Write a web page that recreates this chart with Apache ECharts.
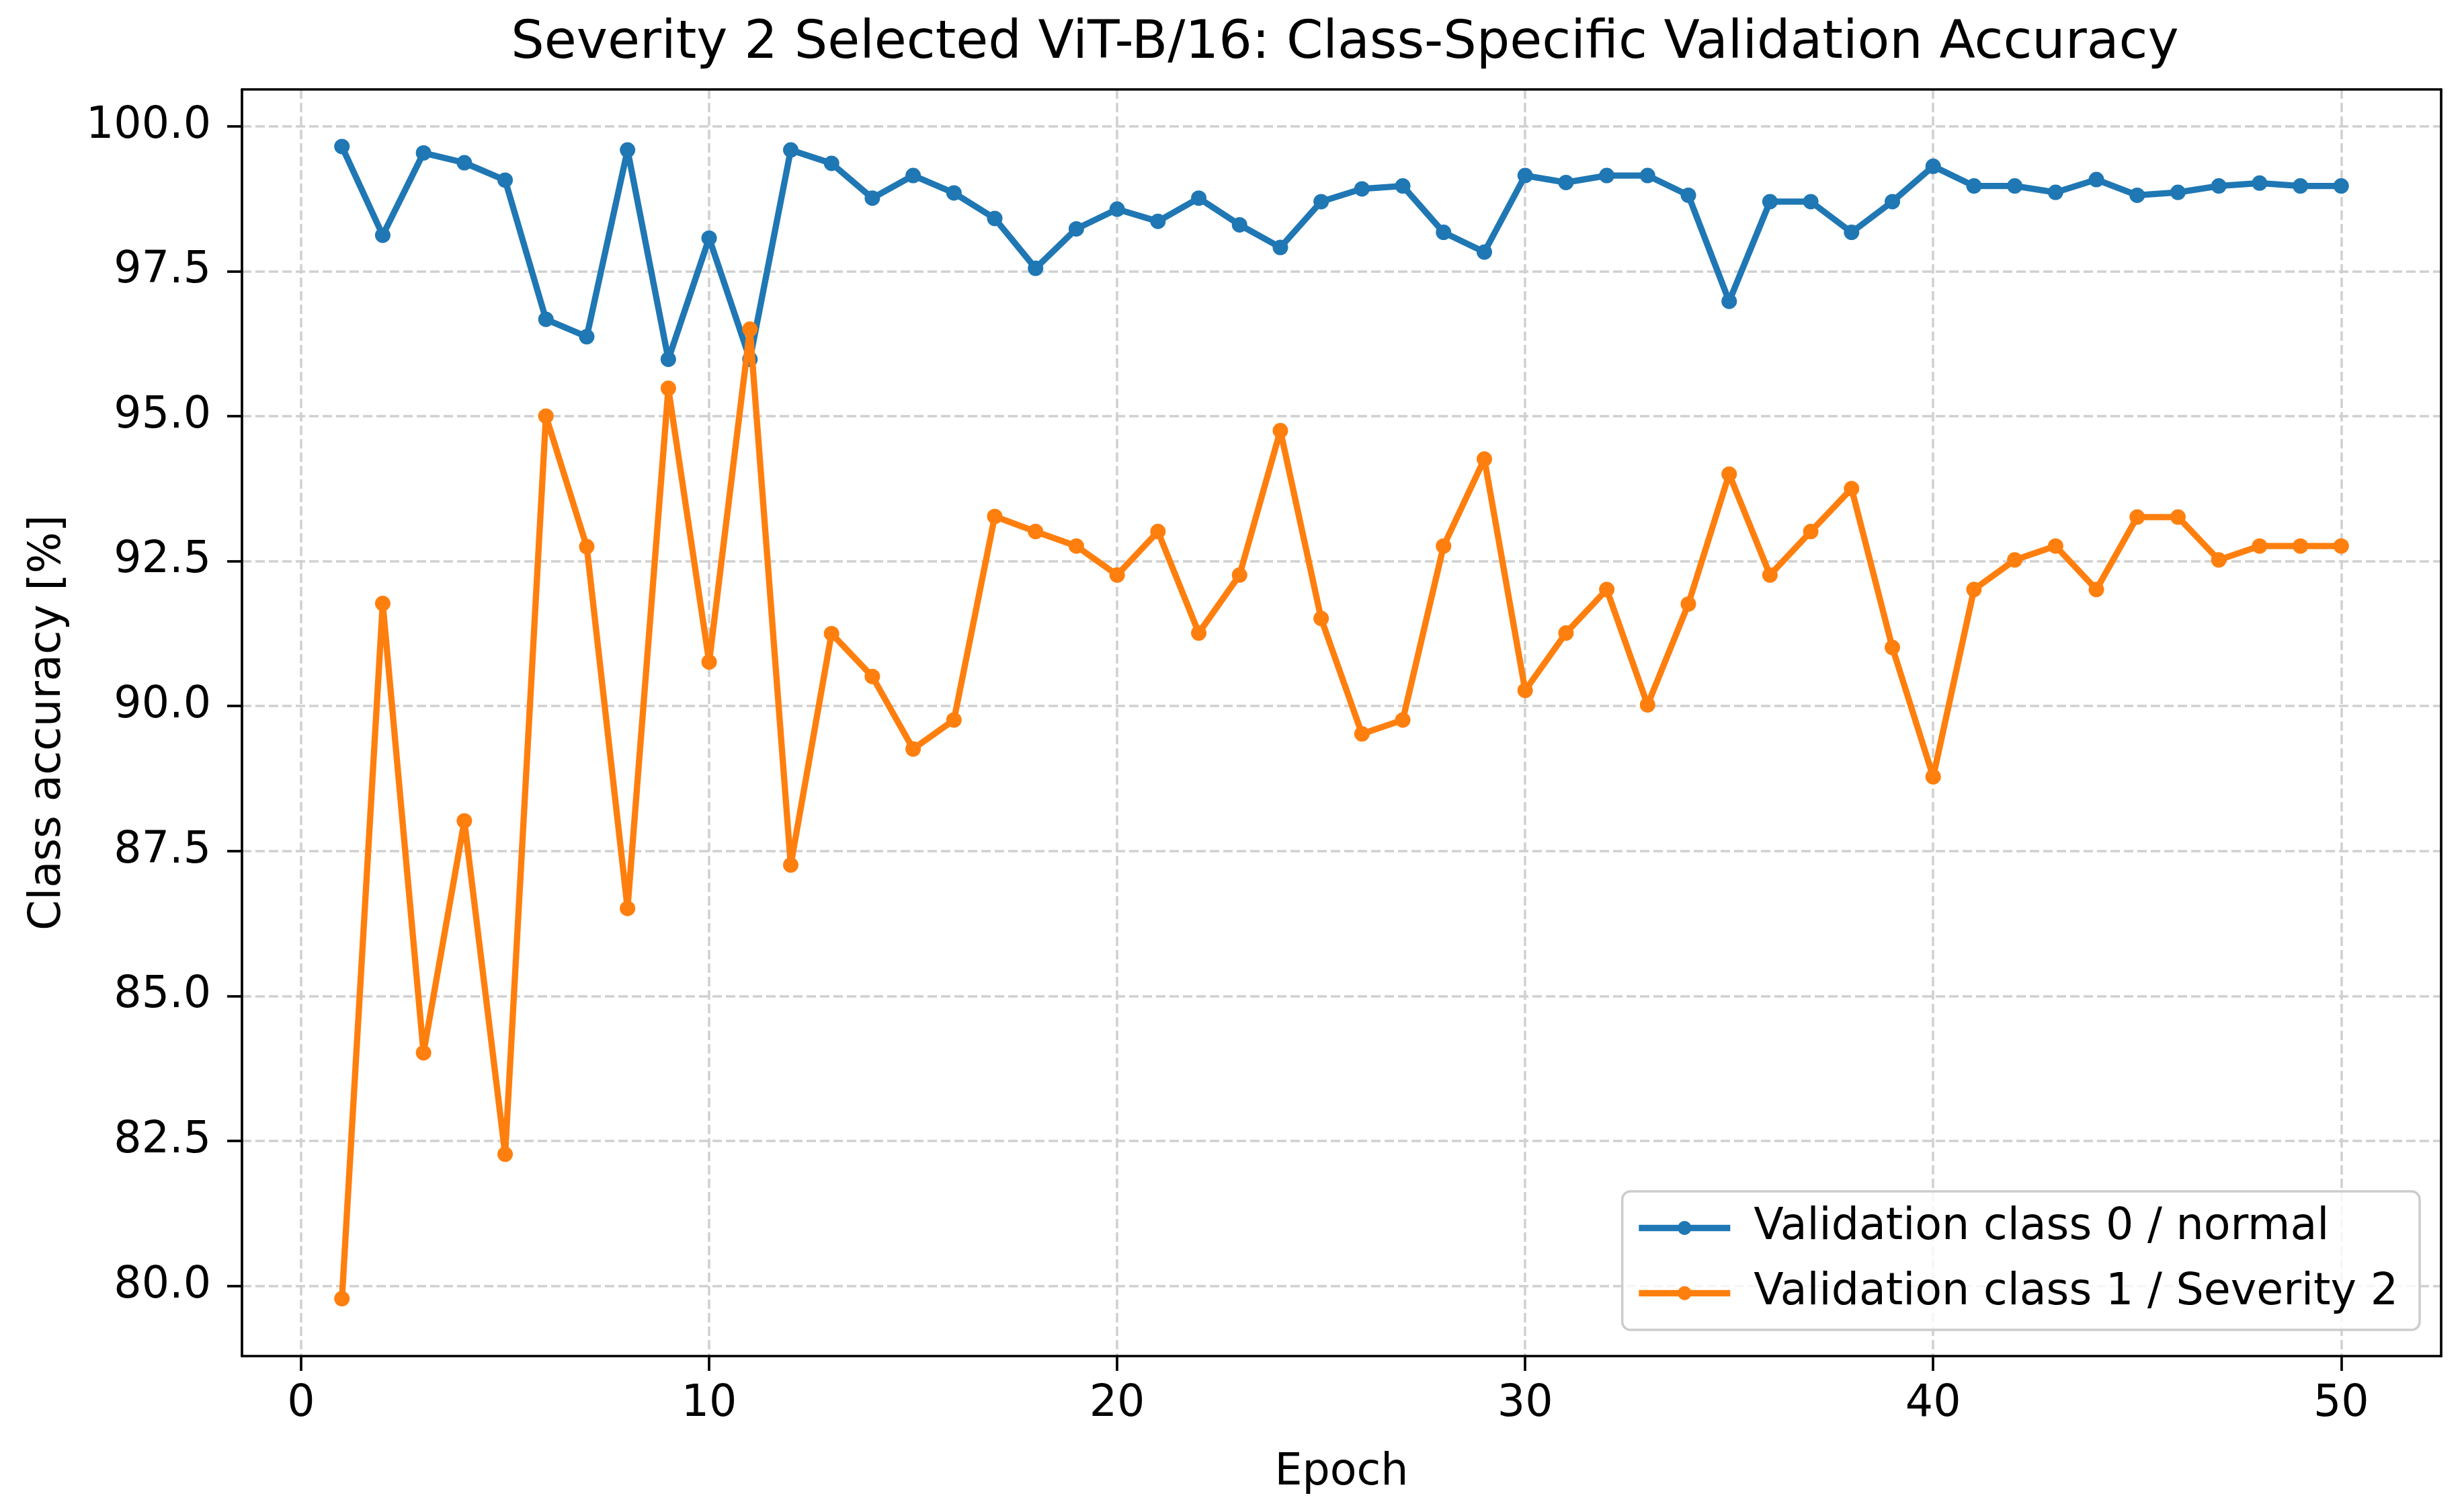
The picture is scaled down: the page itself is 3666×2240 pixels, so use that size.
<!DOCTYPE html>
<html>
<head>
<meta charset="utf-8">
<script src="https://cdn.jsdelivr.net/npm/echarts@6/dist/echarts.min.js"></script>
<style>
html,body{margin:0;padding:0;background:#fff;}
#chart{width:3666px;height:2240px;}
</style>
</head>
<body>
<div id="chart"></div>
<script>
const epochs = [1,2,3,4,5,6,7,8,9,10,11,12,13,14,15,16,17,18,19,20,21,22,23,24,25,26,27,28,29,30,31,32,33,34,35,36,37,38,39,40,41,42,43,44,45,46,47,48,49,50];
const class0Normal = [99.65,98.12,99.54,99.37,99.07,96.67,96.37,99.59,95.98,98.07,95.98,99.59,99.36,98.76,99.15,98.85,98.41,97.55,98.23,98.57,98.36,98.76,98.30,97.91,98.70,98.92,98.97,98.17,97.83,99.15,99.03,99.15,99.15,98.81,96.98,98.70,98.70,98.17,98.70,99.31,98.97,98.97,98.86,99.08,98.81,98.86,98.97,99.02,98.97,98.97];
const class1Severity2 = [79.78,91.77,84.02,88.02,82.27,95.00,92.75,86.51,95.48,90.76,96.50,87.26,91.25,90.51,89.26,89.76,93.27,93.01,92.76,92.26,93.01,91.26,92.26,94.75,91.51,89.52,89.76,92.76,94.26,90.27,91.26,92.01,90.02,91.76,94.00,92.26,93.01,93.75,91.01,88.78,92.01,92.52,92.76,92.01,93.26,93.26,92.52,92.76,92.76,92.76];
const xTicks = [0,10,20,30,40,50];
const yTicks = [80.0,82.5,85.0,87.5,90.0,92.5,95.0,97.5,100.0];
const seriesNames = ['Validation class 0 / normal','Validation class 1 / Severity 2'];
const titleText = 'Severity 2 Selected ViT-B/16: Class-Specific Validation Accuracy';

const FONT = "'DejaVu Sans', sans-serif";
const X_MIN = -1.45, X_MAX = 52.45, Y_MIN = 78.79, Y_MAX = 100.635;
const chart = echarts.init(document.getElementById('chart'), null, {renderer:'canvas'});
const pairs = (ys) => epochs.map((e,i)=>[e, ys[i]]);
const gridLine = {show:true, lineStyle:{color:'#d0d0d0', width:3.5, type:[14,6]}};
const spine = {show:true, onZero:false, lineStyle:{color:'#000', width:3.7}};
chart.setOption({
  animation:false,
  backgroundColor:'#ffffff',
  title:{
    text:titleText, left:1996, top:22, textAlign:'center',
    textStyle:{fontFamily:FONT, fontSize:78, fontWeight:'normal', color:'#000'}
  },
  grid:{left:360, right:34, top:133, bottom:223, containLabel:false},
  legend:{
    orient:'vertical', right:66, top:1772,
    data:seriesNames,
    itemWidth:136, itemHeight:26, itemGap:32,
    padding:[22,32,22,20],
    backgroundColor:'rgba(255,255,255,0.8)',
    borderColor:'#cccccc', borderWidth:3.5, borderRadius:12,
    lineStyle:{width:9.3},
    textStyle:{fontFamily:FONT, fontSize:65, color:'#000', lineHeight:65, padding:[0,0,0,30]}
  },
  xAxis:[{
    type:'value', min:X_MIN, max:X_MAX,
    name:'Epoch', nameLocation:'middle', nameGap:142,
    nameTextStyle:{fontFamily:FONT, fontSize:65, color:'#000'},
    axisLine:spine,
    axisTick:{show:true, length:22, inside:false, lineStyle:{color:'#000', width:3.7}, customValues:xTicks},
    axisLabel:{fontFamily:FONT, fontSize:65, color:'#000', margin:40, customValues:xTicks, formatter:(v)=>String(v)},
    splitLine:gridLine
  },{
    type:'value', min:X_MIN, max:X_MAX, position:'top',
    axisLine:spine, axisTick:{show:false}, axisLabel:{show:false}, splitLine:{show:false}
  }],
  yAxis:[{
    type:'value', min:Y_MIN, max:Y_MAX,
    name:'Class accuracy [%]', nameLocation:'middle', nameGap:255, nameRotate:90,
    nameTextStyle:{fontFamily:FONT, fontSize:65, color:'#000'},
    axisLine:spine,
    axisTick:{show:true, length:22, inside:false, lineStyle:{color:'#000', width:3.7}, customValues:yTicks},
    axisLabel:{fontFamily:FONT, fontSize:65, color:'#000', margin:46, customValues:yTicks, formatter:(v)=>Number(v).toFixed(1)},
    splitLine:gridLine
  },{
    type:'value', min:Y_MIN, max:Y_MAX, position:'right',
    axisLine:spine, axisTick:{show:false}, axisLabel:{show:false}, splitLine:{show:false}
  }],
  series:[
    {
      name:seriesNames[0], type:'line', data:pairs(class0Normal),
      xAxisIndex:0, yAxisIndex:0,
      symbol:'circle', symbolSize:23, showSymbol:true,
      lineStyle:{color:'#1f77b4', width:9.3}, itemStyle:{color:'#1f77b4'},
      z:2
    },
    {
      name:seriesNames[1], type:'line', data:pairs(class1Severity2),
      xAxisIndex:0, yAxisIndex:0,
      symbol:'circle', symbolSize:23, showSymbol:true,
      lineStyle:{color:'#ff7f0e', width:9.3}, itemStyle:{color:'#ff7f0e'},
      z:3
    }
  ]
});
</script>
</body>
</html>
